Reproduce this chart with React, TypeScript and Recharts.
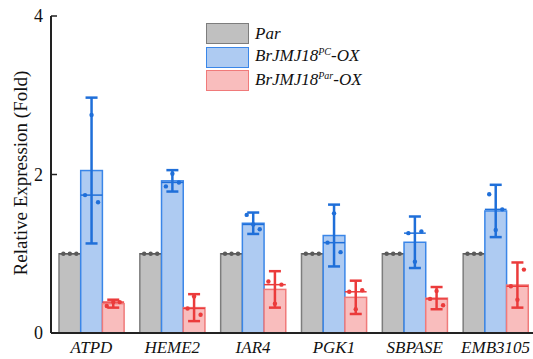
import React from 'react';
import { ComposedChart, Bar, XAxis, YAxis, ErrorBar, Legend } from 'recharts';

const categories = ['ATPD', 'HEME2', 'IAR4', 'PGK1', 'SBPASE', 'EMB3105'];
const parMean = [1, 1, 1, 1, 1, 1];
const pcMean = [2.05, 1.92, 1.385, 1.23, 1.145, 1.54];
const pcErr = [0.92, 0.135, 0.135, 0.39, 0.325, 0.33];
const parOxMean = [0.37, 0.32, 0.55, 0.45, 0.44, 0.605];
const parOxErr = [0.05, 0.17, 0.23, 0.21, 0.14, 0.285];
const parPts = [[1, 1, 1], [1, 1, 1], [1, 1, 1], [1, 1, 1], [1, 1, 1], [1, 1, 1]];
const pcPts = [
  [1.74, 2.75, 1.65],
  [1.85, 2.01, 1.9],
  [1.49, 1.37, 1.31],
  [1.14, 1.51, 1.02],
  [1.26, 0.9, 1.28],
  [1.75, 1.3, 1.56],
];
const parOxPts = [
  [0.34, 0.39, 0.39],
  [0.31, 0.46, 0.23],
  [0.65, 0.37, 0.61],
  [0.52, 0.3, 0.54],
  [0.43, 0.53, 0.35],
  [0.59, 0.42, 0.8],
];
const yTicks = [0, 2, 4];
const legendNames = ['Par', 'BrJMJ18', 'BrJMJ18'];
const legendSups = ['', 'PC', 'Par'];

const rows = categories.map((c, i) => ({
  name: c,
  par: parMean[i],
  pc: pcMean[i],
  pcErr: pcErr[i],
  parOx: parOxMean[i],
  parOxErr: parOxErr[i],
  parPts: parPts[i],
  pcPts: pcPts[i],
  parOxPts: parOxPts[i],
}));

const FONT = 'Liberation Serif, DejaVu Serif, Times, serif';

const styles = [
  { fill: '#c0c0c0', stroke: '#7d7d7d', dot: '#5a5a5a' },
  { fill: '#aecbf2', stroke: '#3a86e8', dot: '#1f6fd9' },
  { fill: '#f9bdbd', stroke: '#f07a7a', dot: '#eb3b3b' },
];

const fracs = [0.2, 0.5, 0.8];

function median(a: number[]) {
  const s = [...a].sort((p, q) => p - q);
  return s[Math.floor(s.length / 2)];
}

function makeShape(meanKey: string, ptsKey: string, st: any) {
  return (props: any) => {
    const { x, y, width, height, payload } = props;
    const mean = payload[meanKey];
    const pts: number[] = payload[ptsKey];
    const ppu = height / mean;
    const base = y + height;
    const med = median(pts);
    const my = base - med * ppu;
    return (
      <g>
        <rect x={x} y={y} width={width} height={height} fill={st.fill} stroke={st.stroke} strokeWidth={1.5} />
        <line x1={x} x2={x + width} y1={my} y2={my} stroke={st.dot} strokeWidth={1.5} />
        {pts.map((p, i) => (
          <circle key={i} cx={x + width * fracs[i]} cy={base - p * ppu} r={2.2} fill={st.dot} />
        ))}
      </g>
    );
  };
}

const YLabel = () => (
  <text
    x={20}
    y={173}
    transform="rotate(-90 20 173)"
    textAnchor="middle"
    dominantBaseline="central"
    style={{ fontFamily: FONT }}
    fontSize={19}
    fill="#111"
  >
    Relative Expression (Fold)
  </text>
);

const LegendContent = () => (
  <div style={{ fontFamily: FONT, fontStyle: 'italic', fontSize: 17, color: '#111' }}>
    {legendNames.map((n, i) => (
      <div key={i} style={{ display: 'flex', alignItems: 'center', height: 23.6 }}>
        <div
          style={{
            width: 43,
            height: 21,
            boxSizing: 'border-box',
            background: styles[i].fill,
            border: `1.5px solid ${styles[i].stroke}`,
            marginRight: 6,
          }}
        />
        <span style={{ whiteSpace: 'nowrap', lineHeight: '20px' }}>
          {n}
          {legendSups[i] ? (
            <>
              <span style={{ fontSize: 10, position: 'relative', top: -6 }}>{legendSups[i]}</span>-OX
            </>
          ) : null}
        </span>
      </div>
    ))}
  </div>
);

export default function App() {
  return (
    <div style={{ position: 'absolute', left: 0, top: 0, width: 533, height: 359, overflow: 'hidden', background: '#fff' }}>
      <ComposedChart
        width={536}
        height={359}
        data={rows}
        margin={{ top: 16, right: 0, bottom: 0, left: 0 }}
        barGap={0}
      >
        <XAxis
          dataKey="name"
          height={26}
          tickLine={false}
          axisLine={{ stroke: '#222', strokeWidth: 2 }}
          tick={{ style: { fontFamily: FONT }, fontStyle: 'italic', fontSize: 17, fill: '#111' }}
          interval={0}
        />
        <XAxis xAxisId="top" orientation="top" dataKey="name" height={0} tick={false} tickLine={false} axisLine={{ stroke: '#222', strokeWidth: 2 }} />
        <YAxis
          width={51}
          domain={[0, 4]}
          ticks={yTicks}
          tickSize={-6}
          tickMargin={14}
          tickLine={{ stroke: '#222', strokeWidth: 1.5 }}
          axisLine={{ stroke: '#222', strokeWidth: 2 }}
          tick={{ style: { fontFamily: FONT }, fontSize: 18, fill: '#111' }}
          label={<YLabel />}
        />
        <Legend
          layout="horizontal"
          verticalAlign="middle"
          align="center"
          width={200}
          content={<LegendContent />}
          wrapperStyle={{ left: 206, top: 22, width: 200 }}
        />
        <Bar dataKey="par" barSize={21.7} isAnimationActive={false} shape={makeShape('par', 'parPts', styles[0])} />
        <Bar dataKey="pc" barSize={21.7} isAnimationActive={false} shape={makeShape('pc', 'pcPts', styles[1])}>
          <ErrorBar dataKey="pcErr" width={6} strokeWidth={2.5} stroke={styles[1].dot} direction="y" />
        </Bar>
        <Bar dataKey="parOx" barSize={21.7} isAnimationActive={false} shape={makeShape('parOx', 'parOxPts', styles[2])}>
          <ErrorBar dataKey="parOxErr" width={6} strokeWidth={2.5} stroke={styles[2].dot} direction="y" />
        </Bar>
      </ComposedChart>
    </div>
  );
}
